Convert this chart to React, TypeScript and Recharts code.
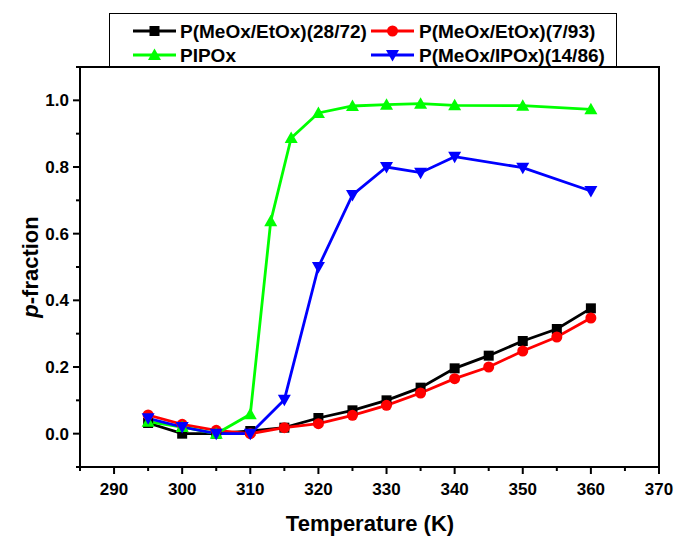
import { LineChart, Line, XAxis, YAxis, ReferenceLine } from "recharts";

// temperature (K) and p-fraction values
const temps = [295, 300, 305, 310, 315, 320, 325, 330, 335, 340, 345, 350, 355, 360];
const meEt2872 = [0.032, 0.0, 0.0, 0.008, 0.018, 0.047, 0.07, 0.1, 0.138, 0.196, 0.234, 0.278, 0.314, 0.376];
const meEt793 = [0.056, 0.028, 0.01, 0.0, 0.018, 0.03, 0.055, 0.085, 0.122, 0.165, 0.2, 0.248, 0.29, 0.347];
const pipoxTemps = [295, 300, 305, 310, 313, 316, 320, 325, 330, 335, 340, 350, 360];
const pipox = [0.036, 0.02, 0.0, 0.058, 0.637, 0.887, 0.962, 0.983, 0.987, 0.99, 0.985, 0.984, 0.973];
const meIpTemps = [295, 300, 305, 310, 315, 320, 325, 330, 335, 340, 350, 360];
const meIp1486 = [0.046, 0.02, 0.0, 0.0, 0.102, 0.5, 0.716, 0.8, 0.783, 0.831, 0.798, 0.728];

const xTicks = [285, 290, 295, 300, 305, 310, 315, 320, 325, 330, 335, 340, 345, 350, 355, 360, 365, 370];
const yTicks = [-0.1, 0, 0.1, 0.2, 0.3, 0.4, 0.5, 0.6, 0.7, 0.8, 0.9, 1.0, 1.1];

const zip = (xs: number[], ys: number[]) => xs.map((x, i) => ({ x, y: ys[i] }));

const FONT = "'Liberation Sans', Arial, sans-serif";

const Square = ({ cx, cy, fill }: any) => <rect x={cx - 5} y={cy - 5} width={10} height={10} fill={fill} />;
const Circle = ({ cx, cy, fill }: any) => <circle cx={cx} cy={cy} r={5.5} fill={fill} />;
const TriUp = ({ cx, cy, fill }: any) => (
  <polygon points={`${cx},${cy - 6.5} ${cx + 6.5},${cy + 5} ${cx - 6.5},${cy + 5}`} fill={fill} />
);
const TriDown = ({ cx, cy, fill }: any) => (
  <polygon points={`${cx},${cy + 6.5} ${cx + 6.5},${cy - 5} ${cx - 6.5},${cy - 5}`} fill={fill} />
);

const series = [
  { name: "P(MeOx/EtOx)(28/72)", color: "#000000", Shape: Square, data: zip(temps, meEt2872) },
  { name: "P(MeOx/EtOx)(7/93)", color: "#ff0000", Shape: Circle, data: zip(temps, meEt793) },
  { name: "PIPOx", color: "#00ff00", Shape: TriUp, data: zip(pipoxTemps, pipox) },
  { name: "P(MeOx/IPOx)(14/86)", color: "#0000ff", Shape: TriDown, data: zip(meIpTemps, meIp1486) },
];

const XTick = ({ x, y, payload }: any) => {
  const v = payload.value;
  const major = v % 10 === 0;
  return (
    <g>
      <line x1={x} x2={x} y1={y} y2={y + (major ? 7 : 4)} stroke="#000" strokeWidth={2} />
      {major && (
        <text x={x} y={y + 28} textAnchor="middle" fontFamily={FONT} fontWeight="bold" fontSize={17} fill="#000">
          {v}
        </text>
      )}
    </g>
  );
};

const YTick = ({ x, y, payload }: any) => {
  const t = Math.round(payload.value * 10);
  const major = t % 2 === 0 && t >= 0 && t <= 10;
  return (
    <g>
      <line x1={x - (major ? 7 : 4)} x2={x} y1={y} y2={y} stroke="#000" strokeWidth={2} />
      {major && (
        <text x={x - 11} y={y + 6} textAnchor="end" fontFamily={FONT} fontWeight="bold" fontSize={17} fill="#000">
          {(t / 10).toFixed(1)}
        </text>
      )}
    </g>
  );
};

const legendPos = [
  { lx: 133, tx: 180, cy: 31 },
  { lx: 371, tx: 419, cy: 31 },
  { lx: 133, tx: 180, cy: 55 },
  { lx: 371, tx: 419, cy: 55 },
];

export default function App() {
  return (
    <div style={{ position: "absolute", left: 0, top: 0, width: 675, height: 536, background: "#fff" }}>
      <LineChart width={675} height={536} margin={{ top: 67, right: 16, bottom: 0, left: 0 }}>
        <XAxis
          type="number"
          dataKey="x"
          domain={[285, 370]}
          ticks={xTicks}
          interval={0}
          height={69}
          tickSize={0}
          tickMargin={0}
          tickLine={false}
          tick={<XTick />}
          axisLine={{ stroke: "#000", strokeWidth: 2 }}
          allowDataOverflow
        />
        <YAxis
          type="number"
          domain={[-0.1, 1.1]}
          ticks={yTicks}
          interval={0}
          width={80}
          tickSize={0}
          tickMargin={0}
          tickLine={false}
          tick={<YTick />}
          axisLine={{ stroke: "#000", strokeWidth: 2 }}
          allowDataOverflow
        />
        <ReferenceLine y={1.1} stroke="#000" strokeWidth={2} />
        <ReferenceLine x={370} stroke="#000" strokeWidth={2} />
        {series.map((s) => (
          <Line
            key={s.name}
            data={s.data}
            dataKey="y"
            type="linear"
            stroke={s.color}
            strokeWidth={2.8}
            isAnimationActive={false}
            dot={(p: any) => <s.Shape key={p.index} cx={p.cx} cy={p.cy} fill={s.color} />}
            activeDot={false}
          />
        ))}
      </LineChart>
      <svg width={675} height={536} style={{ position: "absolute", left: 0, top: 0, pointerEvents: "none" }}>
        <rect x={109.5} y={13.5} width={507} height={54} fill="#fff" stroke="#000" strokeWidth={1} />
        {series.map((s, i) => {
          const p = legendPos[i];
          return (
            <g key={s.name}>
              <line x1={p.lx} x2={p.lx + 43} y1={p.cy} y2={p.cy} stroke={s.color} strokeWidth={2.8} />
              <s.Shape cx={p.lx + 21.5} cy={p.cy} fill={s.color} />
              <text x={p.tx} y={p.cy + 7} fontFamily={FONT} fontWeight="bold" fontSize={19} fill="#000">
                {s.name}
              </text>
            </g>
          );
        })}
        <line x1={79} x2={660} y1={67} y2={67} stroke="#000" strokeWidth={2} />
        <text x={370} y={531} textAnchor="middle" fontFamily={FONT} fontWeight="bold" fontSize={22} fill="#000">
          Temperature (K)
        </text>
        <text
          x={0}
          y={0}
          transform="translate(38,267) rotate(-90)"
          textAnchor="middle"
          fontFamily={FONT}
          fontWeight="bold"
          fontSize={22}
          fill="#000"
        >
          <tspan fontStyle="italic">p</tspan>-fraction
        </text>
      </svg>
    </div>
  );
}
